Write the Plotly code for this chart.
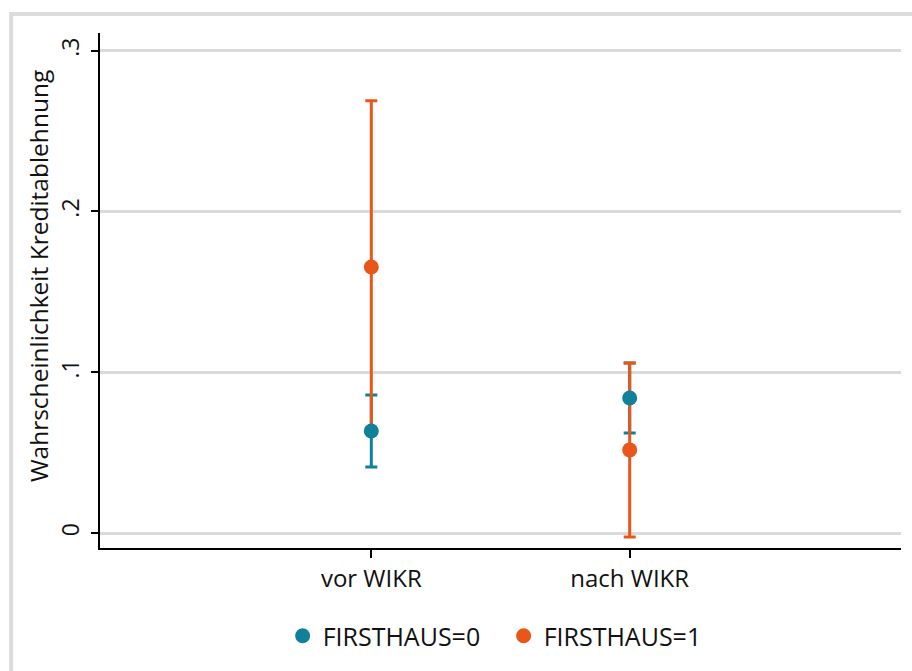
import plotly.graph_objects as go

# Predicted probability of credit rejection, before/after WIKR, by FIRSTHAUS group
periods = ["vor WIKR", "nach WIKR"]
period_pos = [1, 2]

p_first0 = [0.0635, 0.0840]
lo_first0 = [0.0411, 0.0622]
hi_first0 = [0.0859, 0.1058]

p_first1 = [0.1655, 0.0517]
lo_first1 = [0.0622, -0.0025]
hi_first1 = [0.2688, 0.1058]

y_ticks = [0, 0.1, 0.2, 0.3]
y_tick_text = ["0", ".1", ".2", ".3"]

teal = "#11809a"
orange = "#e8561c"
font_family = "Open Sans, Lato, sans-serif"

fig = go.Figure()


def caps(vals, lo, hi):
    return (
        [h - v for h, v in zip(hi, vals)],
        [v - l for v, l in zip(vals, lo)],
    )


# confidence interval caps first (both groups), then the point markers on top
for vals, lo, hi, col in [(p_first0, lo_first0, hi_first0, teal),
                          (p_first1, lo_first1, hi_first1, orange)]:
    plus, minus = caps(vals, lo, hi)
    fig.add_trace(go.Scatter(
        x=period_pos, y=vals, mode="markers",
        marker=dict(size=1, opacity=0, color=col),
        error_y=dict(type="data", symmetric=False, array=plus, arrayminus=minus,
                     color=col, thickness=3, width=6),
        showlegend=False, hoverinfo="skip",
    ))

for vals, col, name in [(p_first0, teal, "FIRSTHAUS=0"),
                        (p_first1, orange, "FIRSTHAUS=1")]:
    fig.add_trace(go.Scatter(
        x=period_pos, y=vals, mode="markers", name=name,
        marker=dict(size=15, color=col, line=dict(width=0)),
    ))

fig.update_layout(
    width=912, height=671,
    margin=dict(l=100, r=11, t=33, b=123),
    paper_bgcolor="white", plot_bgcolor="white",
    font=dict(family=font_family, size=23, color="#111111"),
    showlegend=True,
    legend=dict(orientation="h", x=0.228, xanchor="left", y=-0.171, yanchor="middle",
                font=dict(size=25), itemwidth=30, traceorder="normal",
                entrywidth=176, entrywidthmode="pixels"),
    shapes=[
        dict(type="line", xref="paper", yref="paper", x0=-0.111, x1=1.02,
             y0=1.0369, y1=1.0369, line=dict(color="#dcdcdc", width=4)),
        dict(type="line", xref="paper", yref="paper", x0=-0.111, x1=-0.111,
             y0=-0.3, y1=1.0369 + 0.004, line=dict(color="#dcdcdc", width=4)),
    ],
    annotations=[
        dict(text="Wahrscheinlichkeit Kreditablehnung", textangle=-90,
             xref="paper", yref="paper", x=-0.0774, y=0.528,
             xanchor="center", yanchor="middle", showarrow=False,
             font=dict(size=24.5)),
    ],
)

fig.update_xaxes(
    range=[-0.05, 3.05], tickmode="array", tickvals=period_pos, ticktext=periods,
    showgrid=False, zeroline=False, showline=True, linecolor="black", linewidth=2,
    ticks="outside", ticklen=8, tickwidth=2, tickcolor="black",
    tickfont=dict(size=24),
)
fig.update_yaxes(
    range=[-0.0093, 0.311], tickmode="array", tickvals=y_ticks, ticktext=y_tick_text,
    tickangle=-90, showgrid=True, gridcolor="#dadada", gridwidth=2.5, zeroline=False,
    showline=True, linecolor="black", linewidth=2,
    ticks="outside", ticklen=7, tickwidth=2, tickcolor="black",
    tickfont=dict(size=23), ticklabelstandoff=3,
)

fig.write_html("out.html")
